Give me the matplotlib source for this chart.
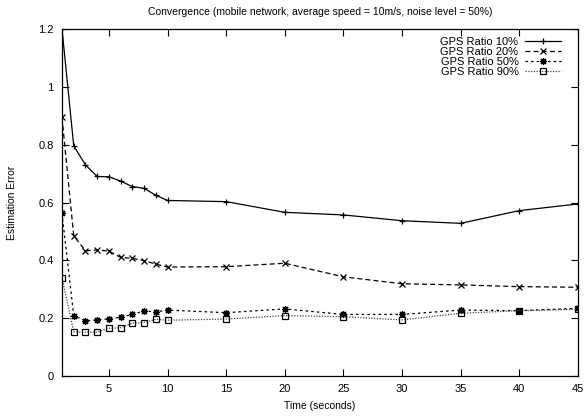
import matplotlib
matplotlib.use('Agg')
import matplotlib.pyplot as plt

plt.rcParams['font.family'] = ['Liberation Sans', 'DejaVu Sans']

# Time axis (seconds)
time_s = [1, 2, 3, 4, 5, 6, 7, 8, 9, 10, 15, 20, 25, 30, 35, 40, 45]

# Estimation error per GPS ratio
gps10 = [1.20, 0.796, 0.73, 0.69, 0.689, 0.674, 0.655, 0.649, 0.625, 0.607,
         0.603, 0.566, 0.557, 0.537, 0.528, 0.572, 0.595]
gps20 = [0.894, 0.485, 0.433, 0.436, 0.432, 0.41, 0.407, 0.399, 0.387, 0.377,
         0.378, 0.39, 0.343, 0.319, 0.315, 0.309, 0.307]
gps50 = [0.563, 0.209, 0.191, 0.194, 0.198, 0.203, 0.213, 0.225, 0.222, 0.228,
         0.219, 0.232, 0.213, 0.213, 0.228, 0.226, 0.234]
gps90 = [0.339, 0.153, 0.151, 0.152, 0.165, 0.167, 0.183, 0.185, 0.196, 0.193,
         0.197, 0.209, 0.205, 0.194, 0.217, 0.226, 0.231]

labels = ['GPS Ratio 10%', 'GPS Ratio 20%', 'GPS Ratio 50%', 'GPS Ratio 90%']
x_ticks = [5, 10, 15, 20, 25, 30, 35, 40, 45]
y_ticks = [0, 0.2, 0.4, 0.6, 0.8, 1.0, 1.2]
y_tick_labels = ['0', '0.2', '0.4', '0.6', '0.8', '1', '1.2']

fig = plt.figure(figsize=(5.86, 4.19), dpi=100)
ax = fig.add_axes([0.1058, 0.1026, 0.8805, 0.8282])

ax.plot(time_s, gps10, color='black', linestyle='-', linewidth=0.9,
        marker='+', markersize=5, markeredgewidth=0.9, label=labels[0])
ax.plot(time_s, gps20, color='black', linestyle=(0, (4, 2.5)), linewidth=0.9,
        marker='x', markersize=4.5, markeredgewidth=0.9, label=labels[1])
ax.plot(time_s, gps50, color='black', linestyle=(0, (2, 2.5)), linewidth=0.9,
        marker=(8, 2, 0), markersize=5, markeredgewidth=0.9, label=labels[2])
ax.plot(time_s, gps90, color='#444444', linestyle=(0, (1, 1.2)), linewidth=0.9,
        marker='s', markersize=4.5, markerfacecolor='none', markeredgecolor='black',
        markeredgewidth=0.9, label=labels[3])

ax.set_xlim(1, 45)
ax.set_ylim(0, 1.2)
ax.set_xticks(x_ticks)
ax.set_yticks(y_ticks)
ax.set_yticklabels(y_tick_labels)
ax.tick_params(direction='in', top=True, right=True, length=5, width=0.8,
               labelsize=8, pad=6)
for sp in ax.spines.values():
    sp.set_linewidth(0.9)

ax.set_title('Convergence (mobile network, average speed = 10m/s, noise level = 50%)',
             fontsize=7.5, pad=10)
ax.set_xlabel('Time (seconds)', fontsize=7.5, labelpad=5)
ax.set_ylabel('Estimation Error', fontsize=7.5, labelpad=15)

leg = ax.legend(loc='upper right', frameon=False, markerfirst=False, fontsize=8,
                handlelength=3.2, handletextpad=0.6, labelspacing=0.0,
                bbox_to_anchor=(0.975, 0.99), borderaxespad=0.0)
for t in leg.get_texts():
    t.set_ha('right')

fig.savefig('out.png', dpi=100)
